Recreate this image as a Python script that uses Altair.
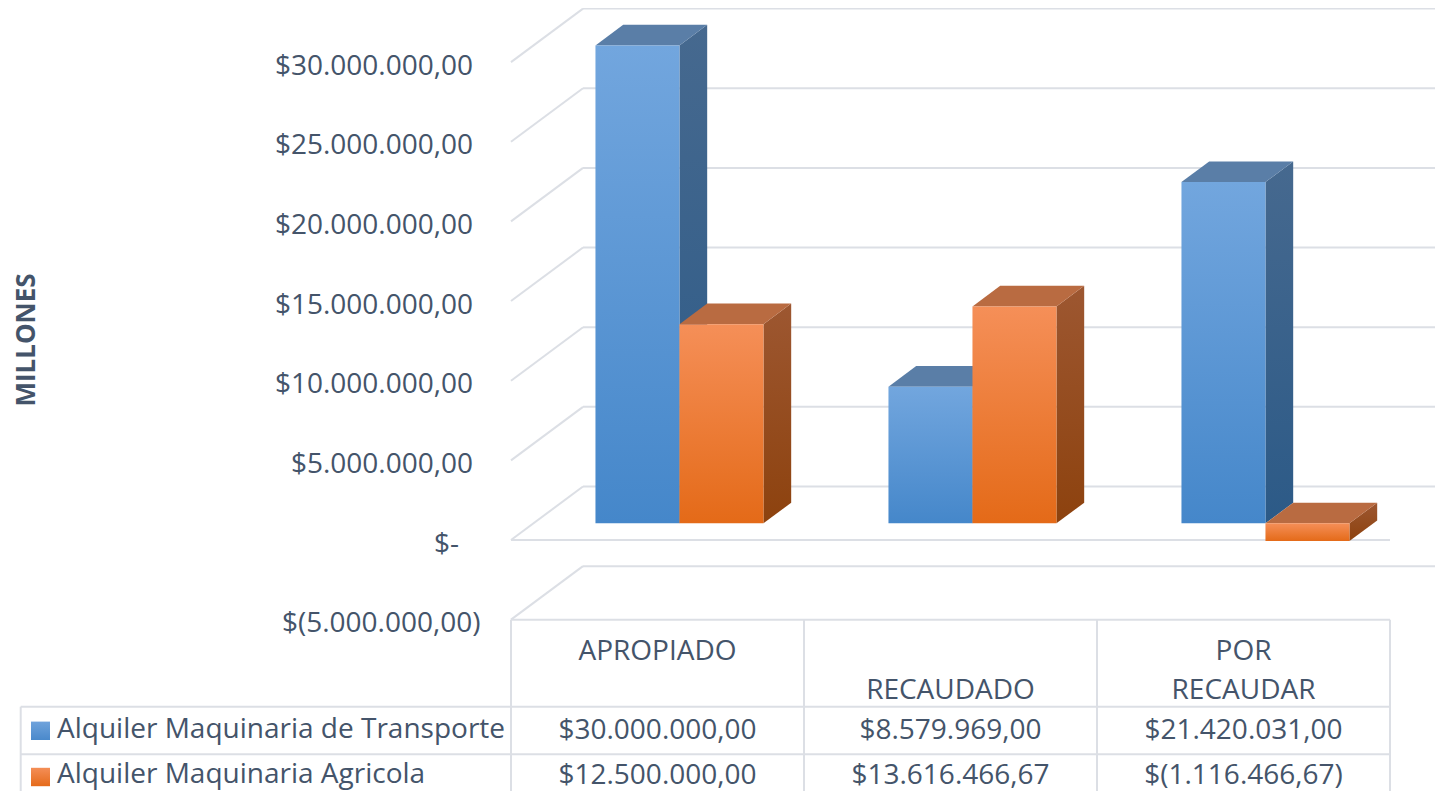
import altair as alt
import pandas as pd

# ---------------- data ----------------
categories = ["APROPIADO", "RECAUDADO", "POR RECAUDAR"]
header_lines = [["APROPIADO", ""], ["", "RECAUDADO"], ["POR", "RECAUDAR"]]
series_names = ["Alquiler Maquinaria de Transporte", "Alquiler Maquinaria Agricola"]
transporte = [30000000.00, 8579969.00, 21420031.00]
agricola = [12500000.00, 13616466.67, -1116466.67]
y_ticks = [-5000000, 0, 5000000, 10000000, 15000000, 20000000, 25000000, 30000000]
y_title = "MILLONES"


def cop(v):
    s = f"{abs(v):,.2f}".replace(",", "#").replace(".", ",").replace("#", ".")
    return f"$({s})" if v < 0 else f"${s}"


def tick_label(v):
    return "$-" if v == 0 else cop(v)


# ---------------- layout ----------------
W, H = 1427, 783
MARGIN = 8
ORIGIN_X, ORIGIN_Y = 511, 540   # page px of the front-plane left edge / zero line
COL_PX = 293
M_PX = 15.93


def sx(page_x):
    return (page_x - ORIGIN_X) / COL_PX


def sy(page_y):
    return (ORIGIN_Y - page_y) / M_PX


x_domain = [sx(MARGIN), sx(MARGIN + W)]
y_domain = [sy(MARGIN + H), sy(MARGIN)]

DX = 72 / COL_PX
DY = 53.5 / M_PX
D_FRONT, D_BACK = 0.312, 0.697
GROUP_OFF = 62 / COL_PX
BAR_W = 84 / COL_PX
N_COLS = len(categories)

FONT = "Open Sans"
TXT = "#44546A"
GRID = "#DCDFE5"


def grad(c0, c1):
    return {"gradient": "linear", "x1": 0, "y1": 0, "x2": 0, "y2": 1,
            "stops": [{"offset": 0, "color": c0}, {"offset": 1, "color": c1}]}


styles = [
    dict(front=grad("#72A6DE", "#4587CA"), side=grad("#46698F", "#2C5A87"), top="#5A7EA7",
         swatch=grad("#6FA3DC", "#4A89CB")),
    dict(front=grad("#F58F58", "#E46A18"), side=grad("#9D5731", "#8D420E"), top="#B96B41",
         swatch=grad("#F48E57", "#E56A1A")),
]


def proj(X, v, d):
    return X + d * DX, v + d * DY


xs = alt.Scale(domain=x_domain, nice=False, zero=False)
ys = alt.Scale(domain=y_domain, nice=False, zero=False)


def X(f="x"):
    return alt.X(f"{f}:Q", scale=xs, axis=None)


def Y(f="y"):
    return alt.Y(f"{f}:Q", scale=ys, axis=None)


layers = []

# ---------------- walls / grid ----------------
rules = []
for t in y_ticks:
    v = t / 1e6
    bx, by = proj(0, v, 1)
    rules.append(dict(x=0, x2=bx, y=v, y2=by))
    rules.append(dict(x=bx, x2=x_domain[1], y=by, y2=by))
rules.append(dict(x=0, x2=N_COLS, y=0, y2=0))
tbl_top = min(y_ticks) / 1e6
hdr_bot = sy(706.7)
row1_bot = sy(754.3)
left_edge = sx(20.7)
rules.append(dict(x=0, x2=N_COLS, y=tbl_top, y2=tbl_top))
rules.append(dict(x=left_edge, x2=N_COLS, y=hdr_bot, y2=hdr_bot))
rules.append(dict(x=left_edge, x2=N_COLS, y=row1_bot, y2=row1_bot))
for c in range(N_COLS + 1):
    rules.append(dict(x=c, x2=c, y=tbl_top, y2=y_domain[0]))
rules.append(dict(x=left_edge, x2=left_edge, y=hdr_bot, y2=y_domain[0]))

layers.append(alt.Chart(pd.DataFrame(rules)).mark_rule(color=GRID, strokeWidth=2).encode(
    x=X(), x2="x2:Q", y=Y(), y2="y2:Q"))

# ---------------- 3D bars ----------------
for s, vals in enumerate([transporte, agricola]):
    fronts, tops, sides = [], [], []
    for i, val in enumerate(vals):
        v = val / 1e6
        hi, lo = max(v, 0), min(v, 0)
        x0 = i + GROUP_OFF + s * BAR_W
        x1 = x0 + BAR_W
        bid = f"{s}-{i}"
        fx0, fyl = proj(x0, lo, D_FRONT)
        fx1, fyh = proj(x1, hi, D_FRONT)
        fronts.append(dict(id=bid, x=fx0, x2=fx1, y=fyl, y2=fyh))
        for d in (D_FRONT, D_BACK):
            ax0, ay = proj(x0, hi, d)
            ax1, _ = proj(x1, hi, d)
            tops.append(dict(id=bid, y=ay, x=ax0, x2=ax1))
            px_, pyl = proj(x1, lo, d)
            _, pyh = proj(x1, hi, d)
            sides.append(dict(id=bid, x=px_, y=pyl, y2=pyh))
    st = styles[s]
    layers.append(alt.Chart(pd.DataFrame(sides)).mark_area(orient="vertical", color=st["side"]).encode(
        x=X(), y=Y(), y2="y2:Q", detail="id:N"))
    layers.append(alt.Chart(pd.DataFrame(tops)).mark_area(orient="horizontal", color=st["top"]).encode(
        y=Y(), x=X(), x2="x2:Q", detail="id:N"))
    layers.append(alt.Chart(pd.DataFrame(fronts)).mark_rect(color=st["front"]).encode(
        x=X(), x2="x2:Q", y=Y(), y2="y2:Q"))

# ---------------- text ----------------
# accounting-style alignment of the value-axis labels
def tick_right(v):
    if v == 0:
        return sx(459)
    if v < 0:
        return sx(480.5)
    return sx(473)


tick_df = pd.DataFrame([dict(x=tick_right(t), y=t / 1e6, t=tick_label(t)) for t in y_ticks])
layers.append(alt.Chart(tick_df).mark_text(align="right", baseline="alphabetic", dy=12.5, font=FONT,
                                           fontSize=28, color=TXT).encode(x=X(), y=Y(), text="t:N"))

hdr = []
for i, lines in enumerate(header_lines):
    for k, ln in enumerate(lines):
        if ln:
            hdr.append(dict(x=i + 0.5, y=sy(660 + 38.5 * k), t=ln))
cells = []
row_base = [sy(739.0), sy(783.5)]
for s, vals in enumerate([transporte, agricola]):
    for i, val in enumerate(vals):
        cells.append(dict(x=i + 0.5, y=row_base[s], t=cop(val)))
layers.append(alt.Chart(pd.DataFrame(hdr + cells)).mark_text(
    align="center", baseline="alphabetic", font=FONT, fontSize=28, color=TXT).encode(
    x=X(), y=Y(), text="t:N"))

leg_base = [sy(738.3), sy(783.3)]
leg = pd.DataFrame([dict(x=sx(57), y=leg_base[s], t=n) for s, n in enumerate(series_names)])
layers.append(alt.Chart(leg).mark_text(align="left", baseline="alphabetic", font=FONT, fontSize=28,
                                       color=TXT).encode(x=X(), y=Y(), text="t:N"))

row_mid = [sy(730.8), sy(777.0)]
for s in range(len(series_names)):
    sw = pd.DataFrame([dict(x=sx(31), x2=sx(50), y=row_mid[s] - 9.2 / M_PX, y2=row_mid[s] + 9.2 / M_PX)])
    layers.append(alt.Chart(sw).mark_rect(color=styles[s]["swatch"]).encode(
        x=X(), x2="x2:Q", y=Y(), y2="y2:Q"))

title_df = pd.DataFrame([dict(x=sx(27), y=sy(340), t=y_title)])
layers.append(alt.Chart(title_df).mark_text(angle=270, align="center", baseline="middle", font=FONT,
                                            fontSize=26, fontWeight="bold", color=TXT).encode(
    x=X(), y=Y(), text="t:N"))

chart = alt.layer(*layers).properties(
    width=W, height=H, autosize=alt.AutoSizeParams(type="none"), padding=0
).configure_view(stroke=None)

chart.save("out.html", embed_options={"renderer": "svg", "actions": False})
